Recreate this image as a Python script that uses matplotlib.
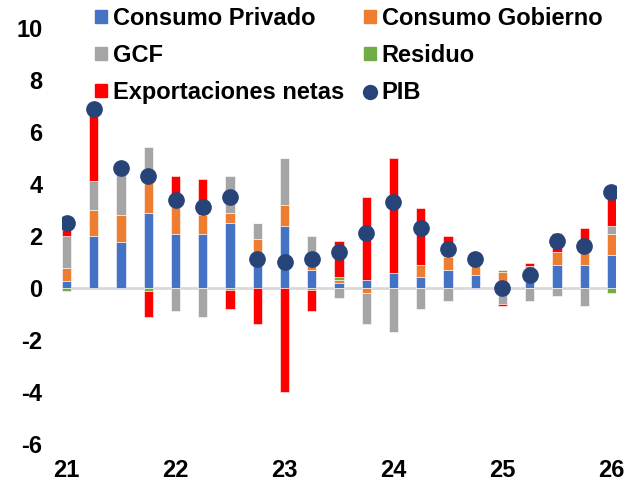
import numpy as np
import matplotlib.pyplot as plt
from matplotlib.lines import Line2D
from matplotlib.patches import Patch

plt.rcParams['font.family'] = ['Liberation Sans', 'DejaVu Sans']
plt.rcParams['font.weight'] = 'bold'
plt.rcParams['axes.unicode_minus'] = False

# datos trimestrales, 21T1 .. 26T1
privado = [0.28, 2.0, 1.78, 2.9, 2.09, 2.09, 2.49, 1.33, 2.38, 0.69, 0.18,
           0.29, 0.59, 0.41, 0.69, 0.49, 0.0, 0.25, 0.88, 0.88, 1.28]
gobierno = [0.5, 1.0, 1.01, 1.13, 1.04, 0.72, 0.41, 0.57, 0.8, 0.16, 0.13,
            -0.19, 0.0, 0.47, 0.51, 0.4, 0.6, 0.6, 0.52, 0.48, 0.81]
gcf = [1.22, 1.13, 1.81, 1.38, -0.9, -1.1, 1.41, 0.59, 1.81, 1.15, -0.4,
       -1.2, -1.7, -0.81, -0.51, 0.0, -0.6, -0.5, -0.3, -0.69, 0.29]
residuo = [-0.1, 0.0, 0.0, -0.1, 0.0, 0.0, -0.08, 0.0, 0.0, -0.08, 0.1,
           0.0, 0.0, 0.0, 0.06, 0.0, 0.1, 0.0, 0.0, 0.0, -0.2]
exportaciones = [0.25, 2.8, 0.0, -1.0, 1.18, 1.38, -0.72, -1.4, -4.0, -0.82, 1.38,
                 3.2, 4.4, 2.21, 0.74, 0.0, -0.08, 0.12, 0.7, 0.94, 1.3]
pib = [2.5, 6.9, 4.6, 4.3, 3.4, 3.1, 3.5, 1.1, 1.0, 1.1, 1.4,
       2.1, 3.3, 2.3, 1.5, 1.1, 0.0, 0.5, 1.8, 1.6, 3.7]
x_labels = ['21', '22', '23', '24', '25', '26']

series = [
    ('Consumo Privado', privado, '#4472C4'),
    ('Consumo Gobierno', gobierno, '#ED7D31'),
    ('GCF', gcf, '#A5A5A5'),
    ('Residuo', residuo, '#70AD47'),
    ('Exportaciones netas', exportaciones, '#FF0000'),
]

fig = plt.figure(figsize=(6.41, 4.87), dpi=100)
ax = fig.add_axes([62 / 641, 43 / 487, 554 / 641, 416 / 487])

x = np.arange(len(pib))
pos = np.zeros(len(x))
neg = np.zeros(len(x))
for name, vals, color in series:
    v = np.array(vals)
    bottom = np.where(v >= 0, pos, neg)
    ax.bar(x, v, width=0.34, bottom=bottom, color=color,
           edgecolor='white', linewidth=0.4, zorder=2)
    pos = pos + np.where(v > 0, v, 0)
    neg = neg + np.where(v < 0, v, 0)

ax.axhline(0, color='#D9D9D9', linewidth=2, zorder=1)
ax.plot(x, pib, 'o', color='#264478', markersize=11, zorder=3)

ax.set_xlim(-0.17, 20.17)
ax.set_ylim(-6, 10)
ax.set_yticks(range(-6, 11, 2))
ax.set_xticks(range(0, 21, 4))
ax.set_xticklabels(x_labels)
ax.tick_params(axis='both', length=0, labelsize=17)
ax.tick_params(axis='y', pad=14)
ax.tick_params(axis='x', pad=11)
for s in ax.spines.values():
    s.set_visible(False)

handles = [
    Patch(color='#4472C4'), Patch(color='#A5A5A5'), Patch(color='#FF0000'),
    Patch(color='#ED7D31'), Patch(color='#70AD47'),
    Line2D([], [], marker='o', linestyle='', color='#264478', markersize=10),
]
labels = ['Consumo Privado', 'GCF', 'Exportaciones netas',
          'Consumo Gobierno', 'Residuo', 'PIB']
fig.legend(handles, labels, ncol=2, loc='upper left', bbox_to_anchor=(95 / 641, 0.986),
           frameon=False, fontsize=17, handlelength=0.5, handleheight=0.5,
           handletextpad=0.25, columnspacing=0.85, labelspacing=0.6,
           borderaxespad=0, borderpad=0)

fig.savefig('out.png', dpi=100)
